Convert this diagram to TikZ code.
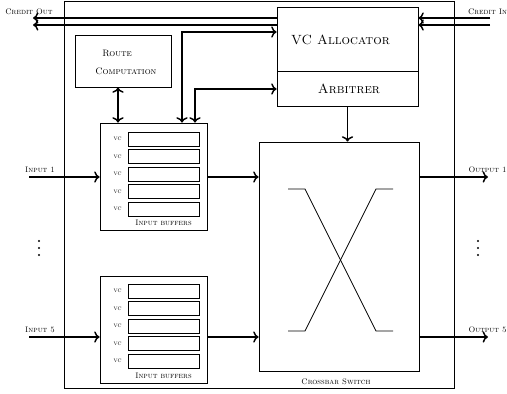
\documentclass[tikz,border=0pt]{standalone}
\usetikzlibrary{arrows.meta}
\begin{document}
\begin{tikzpicture}[x=0.75pt,y=-0.75pt,
  box/.style={draw, line width=0.6pt, inner sep=0pt},
  slot/.style={draw, line width=0.6pt, minimum width=53.25pt, minimum height=10.5pt, inner sep=0pt},
  conn/.style={line width=1.1pt, ->},
  dconn/.style={line width=1.1pt, <->},
  xline/.style={line width=0.6pt},
  big/.style={font=\fontsize{10}{12}\selectfont\scshape, inner sep=0pt},
  mid/.style={font=\fontsize{7}{8}\selectfont\scshape, inner sep=0pt},
  small/.style={font=\fontsize{6}{7}\selectfont\scshape, inner sep=0pt},
  tinyl/.style={font=\fontsize{5}{6}\selectfont\scshape, inner sep=0pt},
  dot/.style={fill=black}
]
\useasboundingbox (0,0) rectangle (507,393);

% outer router box
\node[box, minimum width=292.5pt, minimum height=290.25pt] (router) at (259,194.5) {};

% route computation
\node[box, minimum width=72pt, minimum height=39pt] (rc) at (123,61) {};
\node[mid, anchor=west] (rct1) at (102,53) {Route};
\node[mid, anchor=west] (rct2) at (95,71) {Computation};

% VC allocator and arbiter
\node[box, minimum width=105.75pt, minimum height=48pt] (va) at (347.5,39) {};
\node[big] (vat) at (340.5,40) {VC Allocator};
\node[box, minimum width=105.75pt, minimum height=26.25pt] (arb) at (347.5,88.5) {};
\node[big] (arbt) at (349,89) {Arbitrer};

% input buffers 1
\node[box, minimum width=80.25pt, minimum height=80.25pt] (buf1) at (153.5,176.5) {};
\foreach \i/\yy in {1/139,2/156.5,3/174,4/191.5,5/209}{
  \node[slot] (b1s\i) at (163.5,\yy) {};
  \node[tinyl] (b1v\i) at (117.5,\yy) {vc};
}
\node[small] (b1l) at (163.5,223) {Input buffers};

% input buffers 5
\node[box, minimum width=80.25pt, minimum height=80.25pt] (buf5) at (153.5,329.5) {};
\foreach \i/\yy in {1/291,2/308.5,3/326,4/343.5,5/361}{
  \node[slot] (b5s\i) at (163.5,\yy) {};
  \node[tinyl] (b5v\i) at (117.5,\yy) {vc};
}
\node[small] (b5l) at (163.5,376) {Input buffers};

% crossbar
\node[box, minimum width=120pt, minimum height=171.75pt] (cb) at (339,256.5) {};
\node[small] (cbl) at (336,382) {Crossbar Switch};
\draw[xline] (288,189) -- (305,189) -- (376,331) -- (393,331);
\draw[xline] (288,331) -- (305,331) -- (376,189) -- (393,189);

% credit lines
\coordinate (co1) at (33,18);
\coordinate (co2) at (33,25);
\coordinate (ci1) at (490,18);
\coordinate (ci2) at (490,25);
\draw[conn] (co1 -| va.west) -- (co1);
\draw[conn] (co2 -| va.west) -- (co2);
\draw[conn] (ci1) -- (ci1 -| va.east);
\draw[conn] (ci2) -- (ci2 -| va.east);
\node[small] (colbl) at (29,12) {Credit Out};
\node[small] (cilbl) at (487.5,12) {Credit In};

% buffer <-> allocator / arbiter
\coordinate (t0) at (118,0);
\coordinate (t1) at (182,32);
\coordinate (t2) at (195,89);
\draw[dconn] (t0 |- rc.south) -- (t0 |- buf1.north);
\draw[dconn] (t1 |- buf1.north) |- (t1 -| va.west);
\draw[dconn] (t2 |- buf1.north) |- (t2 -| arb.west);
\draw[conn] (arb.south) -- (arb.south |- cb.north);

% inputs and outputs
\coordinate (in1) at (29,177);
\coordinate (in5) at (29,337);
\coordinate (out1) at (488,177);
\coordinate (out5) at (488,337);
\draw[conn] (in1) -- (in1 -| buf1.west);
\draw[conn] (in1 -| buf1.east) -- (in1 -| cb.west);
\draw[conn] (out1 -| cb.east) -- (out1);
\draw[conn] (in5) -- (in5 -| buf5.west);
\draw[conn] (in5 -| buf5.east) -- (in5 -| cb.west);
\draw[conn] (out5 -| cb.east) -- (out5);
\node[small] (i1l) at (40,170) {Input 1};
\node[small] (i5l) at (40,330) {Input 5};
\node[small] (o1l) at (487.5,170) {Output 1};
\node[small] (o5l) at (487.5,330) {Output 5};

% dots
\foreach \yy in {241,248,255}{
  \fill[dot] (39,\yy) circle (0.8pt);
  \fill[dot] (478,\yy) circle (0.8pt);
}
\end{tikzpicture}
\end{document}
